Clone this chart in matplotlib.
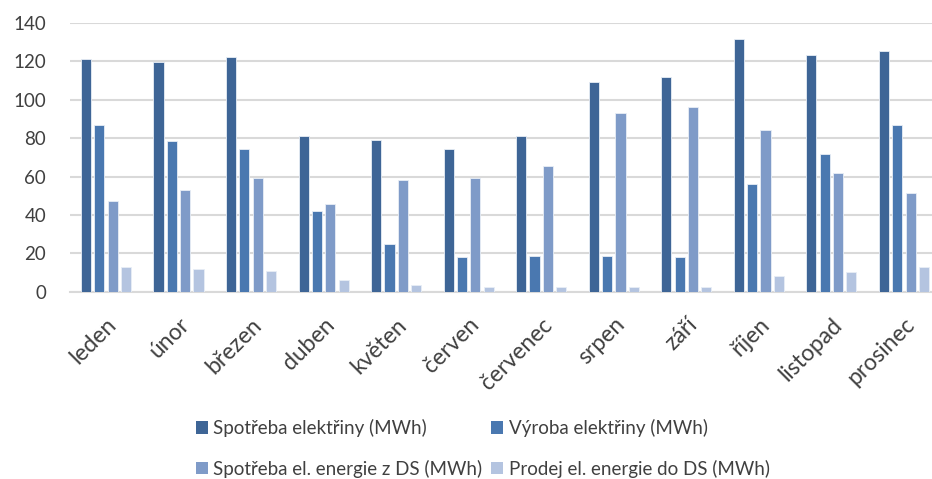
import numpy as np
import matplotlib
matplotlib.use("Agg")
import matplotlib.pyplot as plt
from matplotlib.patches import Patch

months = ["leden", "únor", "březen", "duben", "květen", "červen",
          "červenec", "srpen", "září", "říjen", "listopad", "prosinec"]
spotreba = [121.2, 119.8, 122.4, 81.1, 79.3, 74.3, 81.1, 109.1, 111.7, 131.5, 123.3, 125.2]
vyroba = [86.8, 78.3, 74.3, 42.0, 24.6, 18.0, 18.5, 18.5, 18.0, 55.9, 72.0, 86.8]
spotreba_ds = [47.2, 52.9, 59.0, 45.5, 58.1, 59.0, 65.4, 93.1, 96.4, 84.2, 62.1, 51.4]
prodej_ds = [12.8, 11.6, 11.0, 6.0, 3.5, 2.7, 2.7, 2.7, 2.7, 8.1, 10.5, 12.9]

series = [
    ("Spotřeba elektřiny (MWh)", spotreba, "#3E6596"),
    ("Výroba elektřiny (MWh)", vyroba, "#4A78B0"),
    ("Spotřeba el. energie z DS (MWh)", spotreba_ds, "#7F9BC8"),
    ("Prodej el. energie do DS (MWh)", prodej_ds, "#B4C4E0"),
]

plt.rcParams["font.family"] = ["Lato", "DejaVu Sans"]
text_color = "#404040"

fig = plt.figure(figsize=(9.32, 4.79), dpi=100)
# the plot area runs slightly past the right edge of the canvas
ax = fig.add_axes([0.0748, 0.391, 0.934, 0.561])

x = np.arange(len(months))
width = 0.14
step = 0.184
offsets = (np.arange(4) - 1.5) * step
for (name, vals, col), off in zip(series, offsets):
    ax.bar(x + off, vals, width, color=col, edgecolor="#E8EEF6", linewidth=0.6,
           label=name, zorder=3)

ax.set_xlim(-0.5, len(months) - 0.5)
ax.set_ylim(0, 140)
ax.set_yticks(np.arange(0, 141, 20))
ax.yaxis.grid(True, color="#D9D9D9", linewidth=1.5, zorder=0)
ax.set_axisbelow(True)
for s in ["left", "right", "top"]:
    ax.spines[s].set_visible(False)
ax.spines["bottom"].set_color("#D9D9D9")
ax.spines["bottom"].set_linewidth(1.5)

ax.set_xticks(x)
ax.set_xticklabels(months, rotation=45, ha="right", rotation_mode="anchor",
                   fontsize=16.5, color=text_color)
ax.tick_params(axis="x", length=0, pad=16)
ax.tick_params(axis="y", length=0, pad=17, labelsize=13.5, labelcolor=text_color)

# legend entries filled row by row (two per row)
order = [0, 2, 1, 3]
handles = [Patch(facecolor=series[i][2], edgecolor="none") for i in order]
labels = [series[i][0] for i in order]
fig.legend(handles, labels, ncol=2, loc="center", bbox_to_anchor=(0.518, 0.064),
           frameon=False, fontsize=13.5, labelcolor=text_color,
           handlelength=0.65, handleheight=0.65, handletextpad=0.3,
           columnspacing=0.45, labelspacing=1.2)

fig.savefig("out.png", dpi=100)
